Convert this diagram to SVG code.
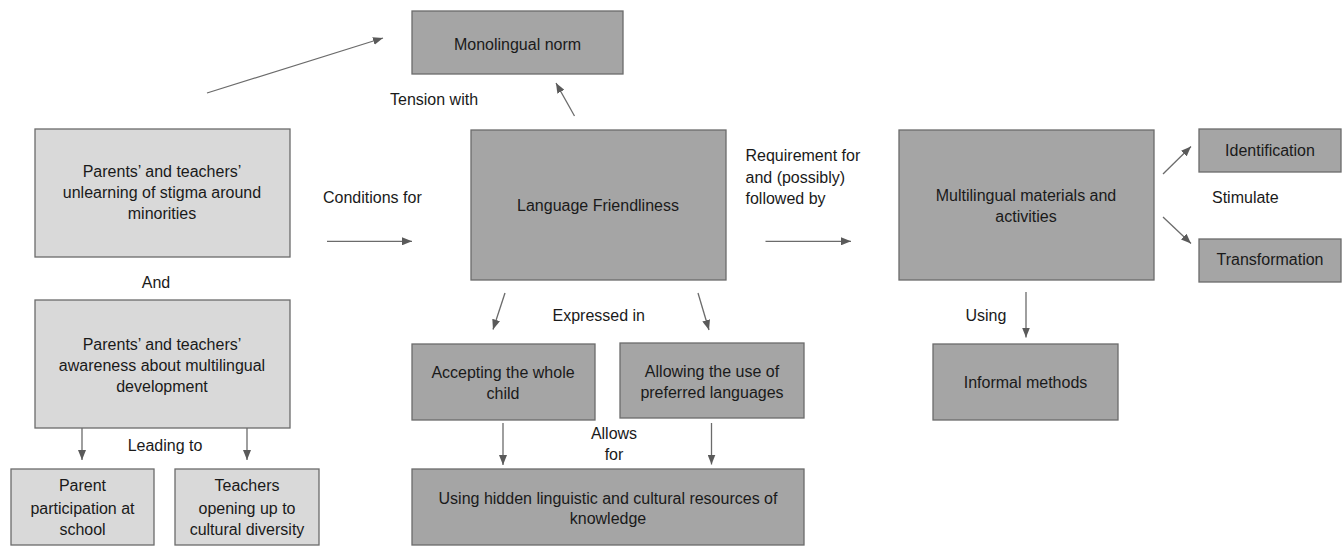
<svg xmlns="http://www.w3.org/2000/svg" width="1344" height="546" viewBox="0 0 1344 546">
<defs>
<marker id="ah" markerUnits="userSpaceOnUse" markerWidth="10" markerHeight="8" refX="10" refY="4" orient="auto">
<path d="M0,0 L10,4 L0,8 z" fill="#5a5a5a"/>
</marker>
<style>
.light{fill:#d9d9d9;stroke:#6b6b6b;stroke-width:1.3}
.dark{fill:#a5a5a5;stroke:#6b6b6b;stroke-width:1.3}
text{font-family:"Liberation Sans",Arial,sans-serif;font-size:16px;fill:#1a1a1a}
.c{text-anchor:middle}
.conn line{stroke:#6b6b6b;stroke-width:1.3;marker-end:url(#ah)}
</style>
</defs>
<rect width="1344" height="546" fill="#ffffff"/>

<g id="monolingual">
<rect class="dark" x="412" y="11" width="211" height="63"/>
<text class="c" x="517.5" y="49.5">Monolingual norm</text>
</g>

<g id="unlearning">
<rect class="light" x="35" y="129" width="255" height="128"/>
<text class="c" x="162" y="177">Parents’ and teachers’</text>
<text class="c" x="162" y="198">unlearning of stigma around</text>
<text class="c" x="162" y="219">minorities</text>
</g>

<g id="awareness">
<rect class="light" x="35" y="300" width="255" height="128"/>
<text class="c" x="162" y="349.5">Parents’ and teachers’</text>
<text class="c" x="162" y="371">awareness about multilingual</text>
<text class="c" x="162" y="392">development</text>
</g>

<g id="parent-participation">
<rect class="light" x="11" y="469" width="143" height="76"/>
<text class="c" x="82.5" y="490.5">Parent</text>
<text class="c" x="82.5" y="513.5">participation at</text>
<text class="c" x="82.5" y="534.5">school</text>
</g>

<g id="teachers-opening">
<rect class="light" x="175" y="469" width="144" height="76"/>
<text class="c" x="247" y="490.5">Teachers</text>
<text class="c" x="247" y="513.5">opening up to</text>
<text class="c" x="247" y="534.5">cultural diversity</text>
</g>

<g id="language-friendliness">
<rect class="dark" x="471" y="130" width="255" height="150"/>
<text class="c" x="598" y="210.5">Language Friendliness</text>
</g>

<g id="accepting">
<rect class="dark" x="412" y="344" width="183" height="76"/>
<text class="c" x="503" y="377.5">Accepting the whole</text>
<text class="c" x="503" y="398.5">child</text>
</g>

<g id="allowing">
<rect class="dark" x="620" y="343" width="184" height="75"/>
<text class="c" x="712" y="376.5">Allowing the use of</text>
<text class="c" x="712" y="397.5">preferred languages</text>
</g>

<g id="using-hidden">
<rect class="dark" x="412" y="469" width="392" height="76"/>
<text class="c" x="608" y="504">Using hidden linguistic and cultural resources of</text>
<text class="c" x="608" y="523.5">knowledge</text>
</g>

<g id="multilingual-materials">
<rect class="dark" x="899" y="130" width="255" height="150"/>
<text class="c" x="1026" y="200.5">Multilingual materials and</text>
<text class="c" x="1026" y="221.5">activities</text>
</g>

<g id="identification">
<rect class="dark" x="1199" y="129" width="142" height="43"/>
<text class="c" x="1270" y="155.5">Identification</text>
</g>

<g id="transformation">
<rect class="dark" x="1199" y="239" width="142" height="43"/>
<text class="c" x="1270" y="265">Transformation</text>
</g>

<g id="informal-methods">
<rect class="dark" x="933" y="344" width="185" height="76"/>
<text class="c" x="1025.5" y="387.5">Informal methods</text>
</g>

<g id="connectors" class="conn">
<line x1="207" y1="93" x2="383" y2="38"/>
<line x1="574.5" y1="116" x2="556" y2="83"/>
<line x1="327" y1="241.3" x2="412" y2="241.3"/>
<line x1="765.5" y1="241.3" x2="851" y2="241.3"/>
<line x1="1163" y1="174" x2="1191" y2="146.5"/>
<line x1="1163" y1="217" x2="1191" y2="243.5"/>
<line x1="82" y1="428" x2="82" y2="460"/>
<line x1="247" y1="428" x2="247" y2="460"/>
<line x1="505" y1="293" x2="493" y2="329.5"/>
<line x1="698" y1="293" x2="709" y2="330"/>
<line x1="503" y1="423" x2="503" y2="465"/>
<line x1="711.5" y1="423" x2="711.5" y2="464.5"/>
<line x1="1026" y1="292" x2="1026" y2="337.5"/>
</g>

<g id="labels">
<text x="390" y="104.5">Tension with</text>
<text x="323" y="203">Conditions for</text>
<text class="c" x="156" y="288">And</text>
<text x="745.5" y="161">Requirement for</text>
<text x="745.5" y="182.5">and (possibly)</text>
<text x="745.5" y="203.5">followed by</text>
<text x="1212" y="203">Stimulate</text>
<text class="c" x="165" y="450.5">Leading to</text>
<text x="552.5" y="320.5">Expressed in</text>
<text class="c" x="614" y="439">Allows</text>
<text class="c" x="614" y="459.5">for</text>
<text x="965.5" y="320.5">Using</text>
</g>
</svg>
